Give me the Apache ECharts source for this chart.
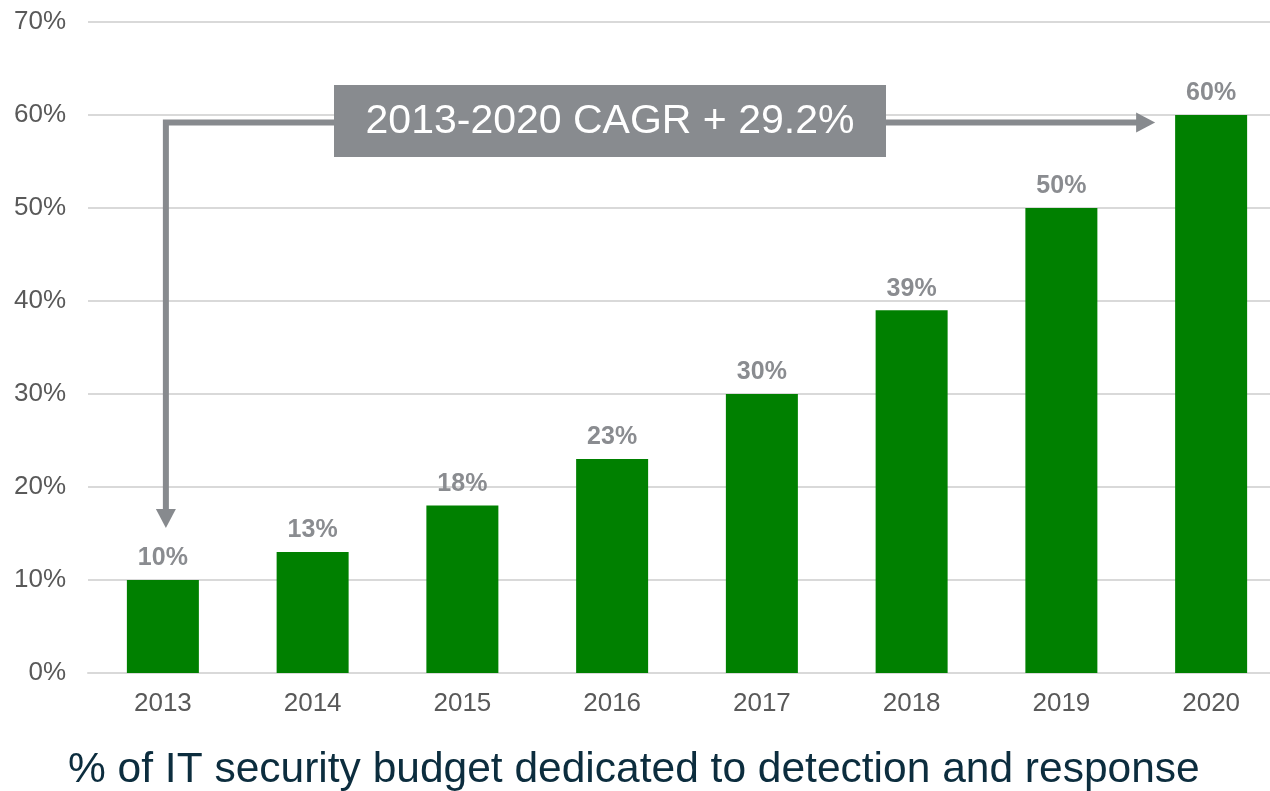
<!DOCTYPE html>
<html>
<head>
<meta charset="utf-8">
<script src="https://cdn.jsdelivr.net/npm/echarts@6/dist/echarts.min.js"></script>
<style>html,body{margin:0;padding:0;background:#fff;overflow:hidden;width:1270px;height:791px;}#c{width:1286px;height:791px;}</style>
</head>
<body>
<div id="c"></div>
<script>
const categories = ['2013','2014','2015','2016','2017','2018','2019','2020'];
const shares = [10, 13, 18, 23, 30, 39, 50, 60];
const yTicks = [0, 10, 20, 30, 40, 50, 60, 70];
const titleText = '% of IT security budget dedicated to detection and response';
const cagrText = '2013-2020 CAGR + 29.2%';
const arrowLevel = 59.2;   // value level of the horizontal connector
const arrowTipLevel = 15.6; // value where the down arrow ends above 2013

const chart = echarts.init(document.getElementById('c'), null, {renderer: 'canvas'});
const FONT = '"Liberation Sans", Arial, sans-serif';
chart.setOption({
  animation: false,
  backgroundColor: '#ffffff',
  title: {
    text: titleText,
    left: 63,
    top: 744,
    textStyle: {fontFamily: FONT, fontSize: 42.5, fontWeight: 'normal', color: '#0c2d3e'}
  },
  grid: {left: 88, right: 0, top: 22, bottom: 118},
  xAxis: {
    type: 'category',
    data: categories,
    axisLine: {show: true, lineStyle: {color: '#d9d9d9', width: 2}},
    axisTick: {show: false},
    axisLabel: {fontFamily: FONT, fontSize: 26, color: '#595959', margin: 18}
  },
  yAxis: {
    type: 'value',
    min: yTicks[0],
    max: yTicks[yTicks.length - 1],
    interval: 10,
    axisLine: {show: false},
    axisTick: {show: false},
    splitLine: {lineStyle: {color: '#d9d9d9', width: 2}},
    axisLabel: {fontFamily: FONT, fontSize: 26, color: '#595959', margin: 22, formatter: '{value}%'}
  },
  series: [{
    type: 'bar',
    data: shares,
    barWidth: 72,
    itemStyle: {color: '#008000'},
    label: {
      show: true,
      position: 'top',
      distance: 9,
      formatter: '{c}%',
      fontFamily: FONT,
      fontSize: 25,
      fontWeight: 'bold',
      color: '#8a8c90'
    }
  }]
});

function px(idx, val) { return chart.convertToPixel({xAxisIndex: 0, yAxisIndex: 0}, [idx, val]); }
const gray = '#878a8e';
const pTop = px(0, arrowLevel);
const pTip = px(0, arrowTipLevel);
const pLast = px(categories.length - 1, arrowLevel);
const xL = pTop[0] + 3;
const yH = pTop[1];
const yTip = pTip[1];
const xTipR = pLast[0] - 56;
const head = 19, hw = 10;
chart.setOption({
  graphic: [
    {type: 'polyline', silent: true, z: 10,
     shape: {points: [[610, yH], [xL, yH], [xL, yTip - head + 1]]},
     style: {stroke: gray, lineWidth: 6, fill: null, lineJoin: 'miter'}},
    {type: 'polygon', silent: true, z: 10,
     shape: {points: [[xL - hw, yTip - head], [xL + hw, yTip - head], [xL, yTip]]},
     style: {fill: gray}},
    {type: 'line', silent: true, z: 10,
     shape: {x1: 610, y1: yH, x2: xTipR - head + 1, y2: yH},
     style: {stroke: gray, lineWidth: 6}},
    {type: 'polygon', silent: true, z: 10,
     shape: {points: [[xTipR - head, yH - hw], [xTipR - head, yH + hw], [xTipR, yH]]},
     style: {fill: gray}},
    {type: 'rect', silent: true, z: 11,
     shape: {x: 334, y: 85, width: 552, height: 72},
     style: {fill: '#888b8f'}},
    {type: 'text', silent: true, z: 12,
     style: {text: cagrText, x: 610, y: 122, fill: '#ffffff', align: 'center', verticalAlign: 'middle',
             font: '41px "Liberation Sans", Arial, sans-serif'}}
  ]
});
</script>
</body>
</html>
